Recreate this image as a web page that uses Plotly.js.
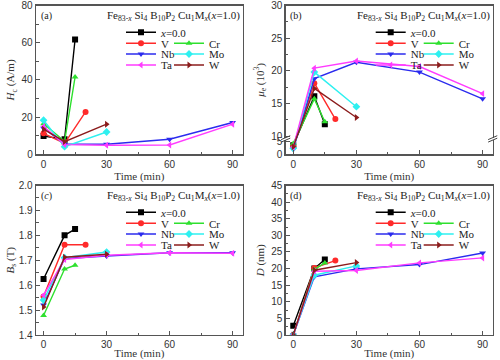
<!DOCTYPE html>
<html><head><meta charset="utf-8">
<script src="https://cdn.plot.ly/plotly-3.0.1.min.js"></script>
<style>html,body{margin:0;padding:0;background:#fff}#chart{width:500px;height:360px}</style>
</head><body><div id="chart"></div>
<script>
// ---------- data ----------
const seriesNames = ['<i>x</i>=0.0', 'V', 'Cr', 'Nb', 'Mo', 'Ta', 'W'];
const time_x0 = [0, 10, 15];
const time_V  = [0, 10, 20];
const time_Cr = [0, 10, 15];
const time_Nb = [0, 10, 30, 60, 90];
const time_Mo = [0, 10, 30];
const time_Ta = [0, 10, 30, 60, 90];
const time_W  = [0, 10, 30];

// (a) coercivity Hc (A/m)
const Hc_x0 = [9.8, 8.1, 61.7];
const Hc_V  = [11.3, 5.9, 22.8];
const Hc_Cr = [16.4, 7.0, 41.5];
const Hc_Nb = [14.0, 5.6, 5.4, 8.1, 17.1];
const Hc_Mo = [18.3, 4.1, 12.0];
const Hc_Ta = [15.0, 5.2, 4.9, 5.0, 16.2];
const Hc_W  = [13.5, 6.8, 16.2];

// (b) permeability mu_e (10^3)
const mu_x0 = [3.6, 16.1, 11.8];
const mu_V  = [3.2, 18.1, 12.6];
const mu_Cr = [4.3, 15.7, 12.2];
const mu_Nb = [2.0, 18.8, 21.3, 19.8, 15.7];
const mu_Mo = [2.4, 19.8, 14.5];
const mu_Ta = [2.8, 20.4, 21.5, 20.65, 16.5];
const mu_W  = [3.0, 17.3, 12.85];

// (c) saturation Bs (T)
const Bs_x0 = [1.625, 1.800, 1.825];
const Bs_V  = [1.555, 1.762, 1.762];
const Bs_Cr = [1.478, 1.665, 1.680];
const Bs_Nb = [1.520, 1.707, 1.717, 1.730, 1.730];
const Bs_Mo = [1.540, 1.710, 1.733];
const Bs_Ta = [1.560, 1.703, 1.720, 1.730, 1.728];
const Bs_W  = [1.512, 1.712, 1.724];

// (d) grain size D (nm)
const D_x0 = [2.8, 20.0, 22.7];
const D_V  = [0, 20.2, 22.4];
const D_Cr = [0, 19.7, 21.7];
const D_Nb = [0, 17.5, 19.9, 21.2, 24.7];
const D_Mo = [0, 18.0, 20.8];
const D_Ta = [0, 19.2, 19.4, 21.7, 23.2];
const D_W  = [0, 19.5, 21.8];

// ---------- styles ----------
const colors  = ['#000000', '#ff2a2a', '#2ee02e', '#2b2bee', '#2ef0f0', '#ff3cff', '#8b1c1c'];
const symbols = ['square', 'circle', 'triangle-up', 'triangle-down', 'diamond', 'triangle-left', 'triangle-right'];
const times = [time_x0, time_V, time_Cr, time_Nb, time_Mo, time_Ta, time_W];

// broken axis mapping for panel (b): 0..5 compressed below the break, 10..30 linear above
const LO0 = 7.21, LO5 = 9.14;
function brk(v) {
  if (v >= 10) return v;
  if (v <= 5) return LO0 + v * (LO5 - LO0) / 5;
  return LO5 + (v - 5) * (10 - LO5) / 5;
}

const panelData = [
  [Hc_x0, Hc_V, Hc_Cr, Hc_Nb, Hc_Mo, Hc_Ta, Hc_W],
  [mu_x0, mu_V, mu_Cr, mu_Nb, mu_Mo, mu_Ta, mu_W].map(a => a.map(brk)),
  [Bs_x0, Bs_V, Bs_Cr, Bs_Nb, Bs_Mo, Bs_Ta, Bs_W],
  [D_x0, D_V, D_Cr, D_Nb, D_Mo, D_Ta, D_W]
];

// pixel helpers
const W = 500, H = 360;
const px = x => x / W, py = y => 1 - y / H;
const offs = [[0, 0], [249.7, 0], [0, 180], [249.7, 180]];
const axIds = [['x', 'y'], ['x2', 'y2'], ['x3', 'y3'], ['x4', 'y4']];

// legend layout (panel a px): marker x, row y
const legLeftX = 158, legRightX = 206;
const legRowY = [32.3, 43.3, 54, 65];
const legPos = [[legLeftX, 0], [legLeftX, 1], [legRightX, 1], [legLeftX, 2], [legRightX, 2], [legLeftX, 3], [legRightX, 3]];

const traces = [];
const layout = {
  width: W, height: H,
  margin: {l: 0, r: 0, t: 0, b: 0},
  paper_bgcolor: '#ffffff', plot_bgcolor: '#ffffff',
  showlegend: true,
  font: {family: 'Liberation Sans, Arial, sans-serif', size: 10, color: '#333'},
  annotations: [], shapes: []
};

let legCount = 0;
panelData.forEach((ser, p) => {
  ser.forEach((vals, s) => {
    legCount++;
    const legName = legCount === 1 ? 'legend' : 'legend' + legCount;
    traces.push({
      type: 'scatter', mode: 'lines+markers',
      x: times[s], y: vals,
      name: seriesNames[s],
      xaxis: axIds[p][0], yaxis: axIds[p][1],
      line: {color: colors[s], width: 1.4},
      marker: {color: colors[s], symbol: symbols[s], size: 6},
      legend: legName, cliponaxis: true
    });
    const mx = legPos[s][0] + offs[p][0];
    const my = legRowY[legPos[s][1]] + offs[p][1];
    layout[legName] = {
      x: px(mx - 37), y: py(my), xanchor: 'left', yanchor: 'middle',
      bgcolor: 'rgba(0,0,0,0)', borderwidth: 0,
      font: {family: 'Liberation Serif, Times New Roman, serif', size: 11, color: '#222'},
      itemclick: false, itemdoubleclick: false
    };
  });
});

const xDomL = [px(36), px(242.7)], xDomR = [px(285.7), px(492.7)];
const yDomT = [py(154.3), py(5.5)], yDomB = [py(335), py(185.5)];
const lineCol = '#555';
function xAxis(dom, anchor) {
  return {
    domain: dom, anchor: anchor, range: [-3.6, 94.8],
    tickvals: [0, 30, 60, 90], ticks: 'inside', ticklen: 4, tickcolor: lineCol,
    minor: {tickvals: [15, 45, 75], ticks: 'inside', ticklen: 2.5, tickcolor: lineCol},
    showline: true, linecolor: lineCol, linewidth: 1.3, mirror: true,
    showgrid: false, zeroline: false,
    tickfont: {family: 'Liberation Sans, Arial, sans-serif', size: 10, color: '#333'},
    title: {text: 'Time (min)', standoff: 1, font: {family: 'Liberation Serif, Times New Roman, serif', size: 11, color: '#333'}}
  };
}
function yAxis(dom, anchor, range, tv, tt, minorVals, title, standoff) {
  const a = {
    domain: dom, anchor: anchor, range: range,
    tickvals: tv, ticks: 'inside', ticklen: 4, tickcolor: lineCol,
    minor: {tickvals: minorVals, ticks: 'inside', ticklen: 2.5, tickcolor: lineCol},
    showline: true, linecolor: lineCol, linewidth: 1.3, mirror: true,
    showgrid: false, zeroline: false,
    tickfont: {family: 'Liberation Sans, Arial, sans-serif', size: 10, color: '#333'},
    title: {text: title, standoff: standoff, font: {family: 'Liberation Serif, Times New Roman, serif', size: 11, color: '#333'}}
  };
  if (tt) a.ticktext = tt;
  return a;
}

layout.xaxis  = xAxis(xDomL, 'y');
layout.xaxis2 = xAxis(xDomR, 'y2');
layout.xaxis3 = xAxis(xDomL, 'y3');
layout.xaxis4 = xAxis(xDomR, 'y4');

layout.yaxis = yAxis(yDomT, 'x', [0, 80], [0, 20, 40, 60, 80], null, [10, 30, 50, 70],
  '<i>H</i><sub>c</sub> (A/m)', 4);
layout.yaxis2 = yAxis(yDomT, 'x2', [LO0, 30],
  [brk(0), brk(5), 10, 15, 20, 25, 30], ['0', '5', '10', '15', '20', '25', '30'],
  [12.5, 17.5, 22.5, 27.5], '<i>μ</i><sub>e</sub> (10<sup>3</sup>)', 4);
layout.yaxis3 = yAxis(yDomB, 'x3', [1.4, 2.0], [1.4, 1.5, 1.6, 1.7, 1.8, 1.9, 2.0], ['1.4', '1.5', '1.6', '1.7', '1.8', '1.9', '2.0'],
  [1.45, 1.55, 1.65, 1.75, 1.85, 1.95], '<i>B</i><sub>s</sub> (T)', 2);
layout.yaxis4 = yAxis(yDomB, 'x4', [0, 45], [0, 5, 10, 15, 20, 25, 30, 35, 40, 45], null,
  [2.5, 7.5, 12.5, 17.5, 22.5, 27.5, 32.5, 37.5, 42.5], '<i>D</i> (nm)', 4);

// panel labels and formula
const labels = ['(a)', '(b)', '(<i>c</i>)', '(d)'];
const formula = 'Fe<sub>83-<i>x</i></sub> Si<sub>4</sub> B<sub>10</sub>P<sub>2</sub> Cu<sub>1</sub>M<sub><i>x</i></sub>(<i>x</i>=1.0)';
offs.forEach((o, p) => {
  layout.annotations.push({
    xref: 'paper', yref: 'paper', x: px(46.7 + o[0]), y: py(15.7 + o[1]),
    xanchor: 'center', yanchor: 'middle', showarrow: false, text: labels[p],
    font: {family: 'Liberation Serif, Times New Roman, serif', size: 10, color: '#222'}
  });
  layout.annotations.push({
    xref: 'paper', yref: 'paper', x: px(173.5 + o[0]), y: py(15.7 + o[1]),
    xanchor: 'center', yanchor: 'middle', showarrow: false, text: formula,
    font: {family: 'Liberation Serif, Times New Roman, serif', size: 11, color: '#222'}
  });
});

// axis-break marks on panel (b)
[0, 1].forEach(side => {
  layout.shapes.push({
    type: 'rect', xref: 'x2 domain', yref: 'y2', layer: 'above',
    x0: side - 0.03, x1: side + 0.03, y0: brk(6.6), y1: brk(8.4),
    fillcolor: '#ffffff', line: {width: 0}
  });
  [6.4, 8.6].forEach(v => {
    layout.shapes.push({
      type: 'line', xref: 'x2 domain', yref: 'y2', layer: 'above',
      x0: side - 0.022, x1: side + 0.022, y0: brk(v) - 0.3, y1: brk(v) + 0.3,
      line: {color: '#444', width: 1}
    });
  });
});

Plotly.newPlot('chart', traces, layout, {staticPlot: true, displayModeBar: false});
</script>
</body></html>
